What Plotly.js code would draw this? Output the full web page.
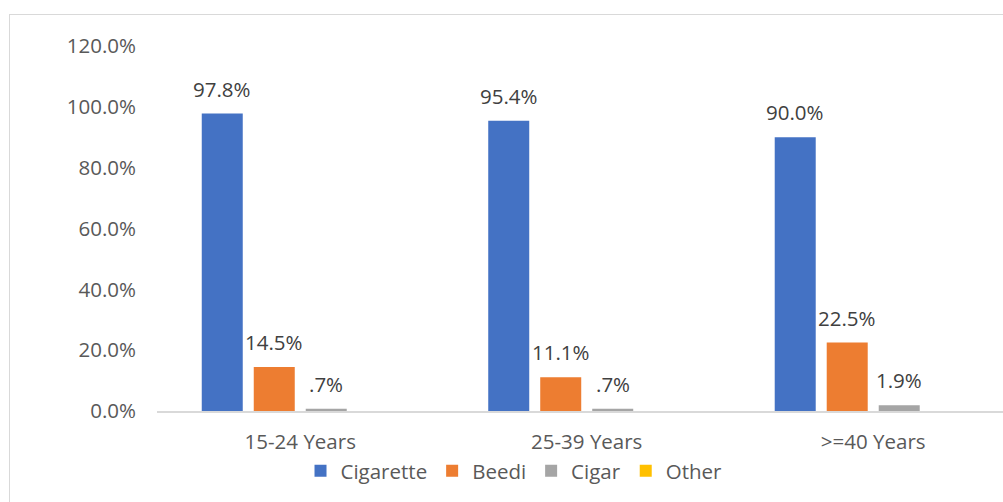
<!DOCTYPE html>
<html>
<head>
<meta charset="utf-8">
<script src="https://cdn.plot.ly/plotly-3.0.1.min.js"></script>
<style>
  html, body { margin: 0; padding: 0; background: #ffffff; }
  #wrap { position: relative; width: 1003px; height: 502px; overflow: hidden; }
  #chart { width: 1003px; height: 502px; }
  #frame { position: absolute; left: 9px; top: 14px; width: 1100px; height: 600px;
           border: 1.5px solid #d9d9d9; pointer-events: none; box-sizing: border-box; }
</style>
</head>
<body>
<div id="wrap">
  <div id="chart"></div>
  <div id="frame"></div>
</div>
<script>
// ---- data ----
const categories = ["15-24 Years", "25-39 Years", ">=40 Years"];
const seriesNames = ["Cigarette", "Beedi", "Cigar", "Other"];
const cigarette = [97.8, 95.4, 90.0];
const beedi = [14.5, 11.1, 22.5];
const cigar = [0.7, 0.7, 1.9];
const other = [null, null, null];
const yTicks = [0, 20, 40, 60, 80, 100, 120];

const seriesValues = [cigarette, beedi, cigar, other];
const colors = ["#4472C4", "#ED7D31", "#A5A5A5", "#FFC000"];

function fmt(v) {
  let s = v.toFixed(1);
  if (s.startsWith("0.")) s = s.slice(1);
  return s + "%";
}

const FONT = "Open Sans, Noto Sans, DejaVu Sans, sans-serif";
const FS = 20.5;
const bargap = 0.274;
const bargroupgap = 0.2115;
const nS = seriesNames.length;
const slot = (1 - bargap) / nS;

const traces = seriesNames.map((name, i) => ({
  type: "bar",
  name: name,
  x: categories,
  y: seriesValues[i],
  marker: { color: colors[i] },
  hoverinfo: "skip"
}));

const annotations = [];
seriesValues.forEach((vals, i) => {
  vals.forEach((v, c) => {
    if (v === null || v === undefined) return;
    annotations.push({
      x: c + (i - (nS - 1) / 2) * slot,
      y: v,
      xref: "x", yref: "y",
      text: fmt(v),
      showarrow: false,
      yanchor: "bottom",
      xanchor: "center",
      yshift: 9,
      font: { family: FONT, size: FS, color: "#404040" }
    });
  });
});

const layout = {
  width: 1003,
  height: 502,
  margin: { l: 157, r: 0, t: 46, b: 91 },
  paper_bgcolor: "#ffffff",
  plot_bgcolor: "#ffffff",
  barmode: "group",
  bargap: bargap,
  bargroupgap: bargroupgap,
  showlegend: true,
  legend: {
    orientation: "h",
    x: 0.422, xanchor: "center",
    y: -0.164, yanchor: "middle",
    font: { family: FONT, size: FS, color: "#595959" },
    traceorder: "normal",
    itemclick: false
  },
  xaxis: {
    type: "category",
    range: [-0.5, 2.453],
    showline: true,
    linecolor: "#d9d9d9",
    linewidth: 1.5,
    showgrid: false,
    ticks: "",
    ticklabelstandoff: 12,
    tickfont: { family: FONT, size: FS, color: "#595959" },
    fixedrange: true
  },
  yaxis: {
    range: [0, 120],
    tickvals: yTicks,
    ticktext: yTicks.map(v => v.toFixed(1) + "%"),
    showgrid: false,
    zeroline: false,
    showline: false,
    ticks: "",
    ticklabelstandoff: 20,
    tickfont: { family: FONT, size: FS, color: "#595959" },
    fixedrange: true
  },
  annotations: annotations
};

Plotly.newPlot("chart", traces, layout, { displayModeBar: false, staticPlot: true });
</script>
</body>
</html>
